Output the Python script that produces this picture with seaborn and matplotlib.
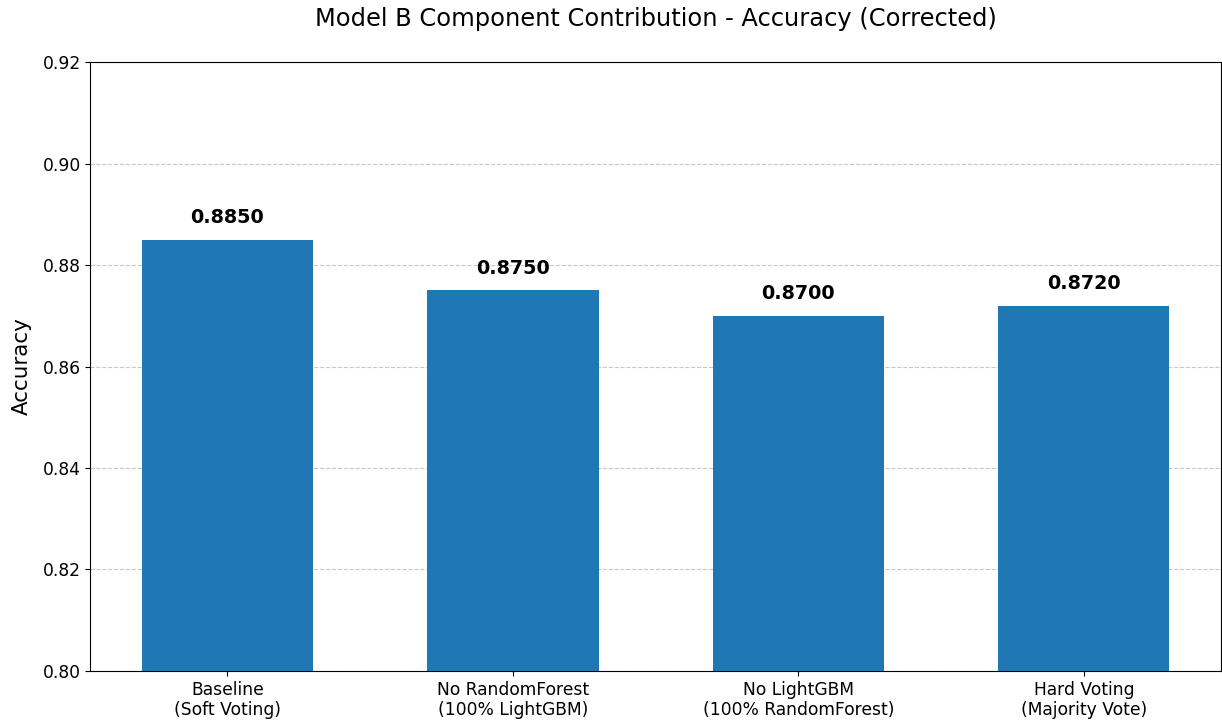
import matplotlib
matplotlib.use("Agg")
import matplotlib.pyplot as plt
import seaborn as sns
import pandas as pd

configs = ["Baseline\n(Soft Voting)", "No RandomForest\n(100% LightGBM)",
           "No LightGBM\n(100% RandomForest)", "Hard Voting\n(Majority Vote)"]
accuracy = [0.885, 0.875, 0.870, 0.872]

df = pd.DataFrame({"config": configs, "accuracy": accuracy})

sns.set_style("ticks", rc={"text.color": "black", "axes.labelcolor": "black",
                           "xtick.color": "black", "ytick.color": "black",
                           "axes.edgecolor": "black"})
fig, ax = plt.subplots(figsize=(12.22, 7.23), dpi=100)

sns.barplot(data=df, x="config", y="accuracy", color="#1f77b4", saturation=1,
            width=0.6, linewidth=0, ax=ax, zorder=3)

for i, v in enumerate(accuracy):
    ax.text(i, v + 0.0025, f"{v:.4f}", ha="center", va="bottom",
            fontsize=13.8, fontweight="bold", color="black")

ax.set_ylim(0.80, 0.92)
ax.set_xlim(-0.48, 3.48)
ax.yaxis.grid(True, linestyle="--", color="#b0b0b0", alpha=0.7, zorder=0)
ax.set_axisbelow(True)
ax.set_xlabel("")
ax.set_ylabel("Accuracy", fontsize=15.4, labelpad=8)
ax.set_title("Model B Component Contribution - Accuracy (Corrected)", fontsize=17.4, pad=26)
ax.tick_params(labelsize=12.3)
for s in ax.spines.values():
    s.set_visible(True)

plt.subplots_adjust(left=0.074, right=0.999, top=0.914, bottom=0.072)
plt.savefig("out.png")
